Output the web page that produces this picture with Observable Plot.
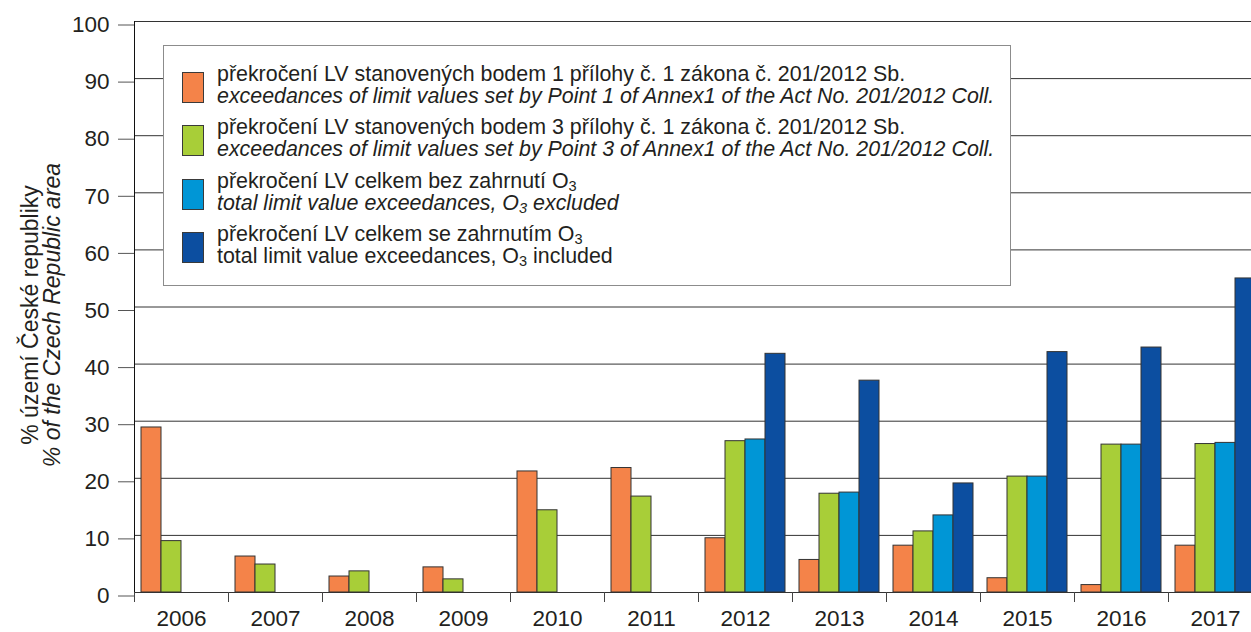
<!DOCTYPE html>
<html>
<head>
<meta charset="utf-8">
<script src="https://cdn.jsdelivr.net/npm/d3@7"></script>
<script src="https://cdn.jsdelivr.net/npm/@observablehq/plot@0.6"></script>
<style>
  html, body { margin: 0; padding: 0; background: white; overflow: hidden; }
  #wrap { position: relative; width: 1251px; height: 632px; overflow: hidden; font-family: "Liberation Sans", Arial, sans-serif; color: #231f20; }
  #wrap svg { overflow: hidden; display: block; }
  .legend { position: absolute; left: 163px; top: 45px; width: 848px; height: 241px; box-sizing: border-box; border: 1.5px solid #8c8c8c; background: white; }
  .entry { position: absolute; left: 0; }
  .sw { position: absolute; left: 18px; top: 8px; width: 22px; height: 31px; box-sizing: border-box; border: 1px solid #3a3a3a; }
  .txt { position: absolute; left: 53px; top: 0; white-space: nowrap; font-size: 21.4px; line-height: 21.5px; }
  .txt i { font-style: italic; }
  sub { font-size: 68%; line-height: 0; vertical-align: -0.22em; }
  .ytitle { position: absolute; left: -159px; top: 293px; width: 400px; height: 44px; transform: rotate(-90deg); text-align: center; font-size: 23px; line-height: 22px; white-space: nowrap; }
</style>
</head>
<body>
<div id="wrap"></div>
<script>
// ---- data ----
const years = [2006, 2007, 2008, 2009, 2010, 2011, 2012, 2013, 2014, 2015, 2016, 2017];
const seriesKeys = ["point1", "point3", "totalNoO3", "totalWithO3"];
const seriesColors = ["#f48349", "#a8ce38", "#0096d6", "#0c4ea0"];
const point1 = [28.9, 6.3, 2.8, 4.4, 21.2, 21.8, 9.5, 5.7, 8.2, 2.5, 1.3, 8.2];
const point3 = [9.0, 4.9, 3.7, 2.3, 14.4, 16.8, 26.5, 17.3, 10.7, 20.3, 25.9, 26.0];
const totalNoO3 = [null, null, null, null, null, null, 26.8, 17.5, 13.5, 20.3, 25.9, 26.2];
const totalWithO3 = [null, null, null, null, null, null, 41.8, 37.1, 19.1, 42.1, 42.9, 55.0];
const yTicks = [0, 10, 20, 30, 40, 50, 60, 70, 80, 90, 100];

const legendLines = [
  ["překročení LV stanovených bodem 1 přílohy č. 1 zákona č. 201/2012 Sb.", "<i>exceedances of limit values set by Point 1 of Annex1 of the Act No. 201/2012 Coll.</i>"],
  ["překročení LV stanovených bodem 3 přílohy č. 1 zákona č. 201/2012 Sb.", "<i>exceedances of limit values set by Point 3 of Annex1 of the Act No. 201/2012 Coll.</i>"],
  ["překročení LV celkem bez zahrnutí O<sub>3</sub>", "<i>total limit value exceedances, O<sub>3</sub> excluded</i>"],
  ["překročení LV celkem se zahrnutím O<sub>3</sub>", "total limit value exceedances, O<sub>3</sub> included"]
];

// ---- table ----
const seriesValues = [point1, point3, totalNoO3, totalWithO3];
const table = [];
years.forEach((yr, i) => {
  seriesValues.forEach((arr, k) => {
    if (arr[i] != null) table.push({year: yr, series: seriesKeys[k], value: arr[i]});
  });
});

const chart = Plot.plot({
  width: 1251,
  height: 632,
  marginLeft: 134,
  marginRight: -11,
  marginTop: 21,
  marginBottom: 40,
  style: {fontFamily: "'Liberation Sans', Arial, sans-serif", color: "#231f20", background: "white"},
  fx: {domain: years, padding: 0, label: null},
  x: {domain: seriesKeys, paddingInner: 0, paddingOuter: 0.2927, axis: null},
  y: {domain: [0, 100], label: null},
  color: {domain: seriesKeys, range: seriesColors},
  marks: [
    Plot.gridY(yTicks, {stroke: "#333", strokeOpacity: 1, strokeWidth: 1}),
    Plot.barY(table, {fx: "year", x: "series", y: "value", fill: "series", stroke: "#333", strokeWidth: 1}),
    Plot.frame({anchor: "left", facetAnchor: "left", stroke: "#111"}),
    Plot.axisY(yTicks, {tickSize: 16, tickPadding: 9, fontSize: 22.5, stroke: "#555", dy: 3.5, label: null}),
    Plot.axisFx({anchor: "bottom", tickSize: 10, tickFormat: () => "", dx: -47, stroke: "#444", label: null}),
    Plot.axisFx({anchor: "bottom", tickSize: 0, tickPadding: 18, fontSize: 22.5, label: null, tickFormat: d => String(d)})
  ]
});

const wrap = document.getElementById("wrap");
wrap.appendChild(chart);

// legend
const legend = document.createElement("div");
legend.className = "legend";
const swatchTops = [26, 79, 133, 186];
legendLines.forEach((lines, k) => {
  const e = document.createElement("div");
  e.className = "entry";
  e.style.top = (swatchTops[k] - 8) + "px";
  e.innerHTML = `<div class="sw" style="background:${seriesColors[k]}"></div><div class="txt">${lines[0]}<br>${lines[1]}</div>`;
  legend.appendChild(e);
});
wrap.appendChild(legend);

// y title
const yt = document.createElement("div");
yt.className = "ytitle";
yt.innerHTML = "% území České republiky<br><i>% of the Czech Republic area</i>";
wrap.appendChild(yt);
</script>
</body>
</html>
